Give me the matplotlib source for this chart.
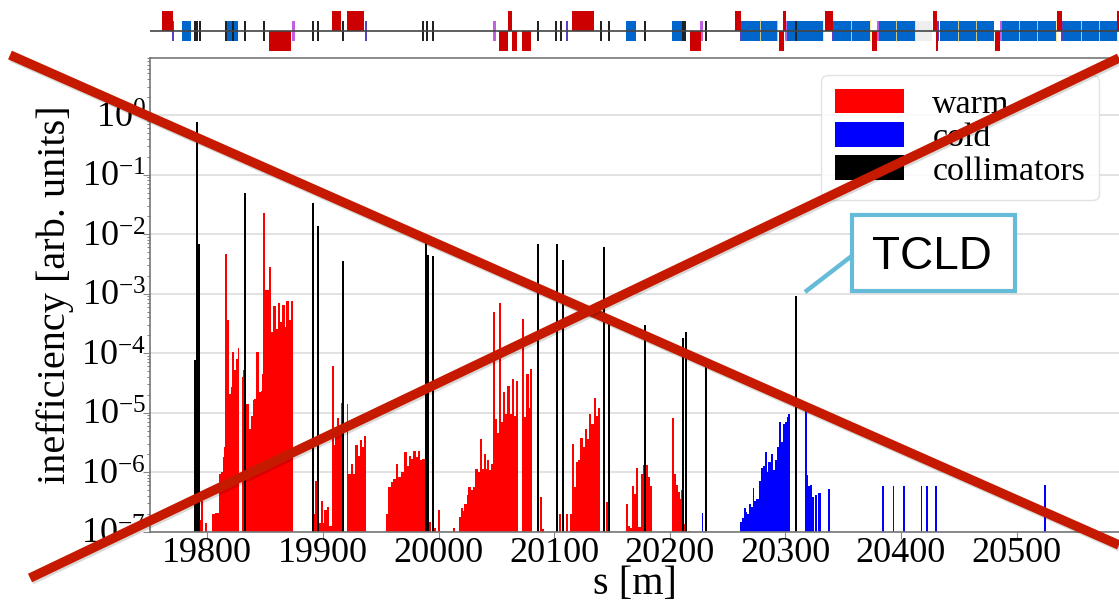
import numpy as np
import matplotlib
matplotlib.use('Agg')
import matplotlib.pyplot as plt
import matplotlib.patheffects as pe
from matplotlib.patches import Rectangle
from matplotlib.ticker import LogLocator, NullFormatter

# loss map: position [m] and log10(inefficiency)
warm_s = [19792, 19793.5, 19795.5, 19799, 19805, 19807.5, 19810.5, 19812.3, 19814, 19815.2, 19816.4, 19818,
          19819.6, 19821, 19822.5, 19824, 19825.5, 19827, 19830.5, 19832, 19833.6, 19835.5, 19837, 19838.5,
          19840, 19841.2, 19843.3, 19845, 19847, 19848.2, 19849.3, 19851, 19854, 19855.7, 19858, 19859.7,
          19861.7, 19863.7, 19865.7, 19867.5, 19869.2, 19871.2, 19873,
          19892.6, 19894, 19896, 19899, 19900.4, 19901.8, 19904, 19906, 19908.4, 19909.9, 19911.3, 19912.7,
          19914.8, 19916, 19917.1, 19921.7, 19922.8, 19924.9, 19927, 19928.9, 19931, 19932.6, 19934.4, 19936.4,
          19955, 19956.9, 19959.5, 19961.5, 19964, 19966, 19968, 19971, 19973, 19975.3, 19977, 19979, 19981,
          19982.8, 19984.5, 19986.8, 19988, 19989.7, 19992.6, 19997, 20000.7,
          20013.4, 20018.6, 20020, 20021.6, 20023.2, 20025, 20026.7, 20028.7, 20030.7, 20032.7, 20034.5, 20036.5,
          20038.2, 20040, 20041.6, 20043, 20044.5, 20046, 20047.7, 20049.2, 20051, 20053, 20054.6, 20056.7,
          20058.4, 20060.4, 20062.2, 20064.2, 20066, 20067.9, 20073, 20074.8, 20076.8, 20078.6, 20080.3,
          20088.4, 20090, 20105, 20111, 20114.3, 20116, 20117.8, 20119.5, 20121.3, 20123.3, 20125.3, 20127.3,
          20129, 20131, 20133, 20135, 20136.8, 20138.8, 20145.5, 20147,
          20162.8, 20164.2, 20166, 20168, 20169.7, 20171.4, 20173.2, 20175.8, 20177.5, 20180, 20181.8, 20183.5,
          20202.6, 20204, 20206, 20207.8, 20209.5, 20210.6, 20212.5, 20216.7]
warm_exp = [-5.97, -6.81, -6.48, -6.86, -6.71, -6.69, -6.03, -6.0, -5.75, -5.58, -2.33, -3.45,
            -4.68, -4.57, -3.98, -4.29, -4.1, -3.91, -4.4, -4.29, -4.85, -4.85, -5.27, -5.05,
            -4.79, -4.77, -3.98, -4.65, -4.63, -4.35, -1.64, -2.94, -2.56, -3.64, -3.21, -3.6,
            -3.15, -3.47, -3.19, -3.56, -3.12, -3.45, -3.13,
            -6.7, -6.14, -6.85, -6.48, -6.85, -6.64, -6.59, -6.9, -4.22, -5.55, -5.24, -5.09,
            -5.24, -4.83, -5.07, -4.86, -6.03, -5.87, -6.03, -5.55, -5.72, -5.46, -5.58, -5.4,
            -6.7, -6.25, -6.17, -6.11, -5.86, -6.08, -6.0, -5.66, -5.89, -5.72, -5.78, -5.65, -5.75,
            -5.65, -5.8, -5.78, -5.78, -6.28, -6.84, -6.93, -6.64,
            -6.94, -6.76, -6.6, -6.65, -6.53, -6.39, -6.25, -6.3, -6.25, -5.94, -6.0, -5.44,
            -5.94, -5.7, -5.95, -5.79, -5.97, -5.86, -3.31, -5.1, -5.35, -3.16, -5.16, -4.65,
            -5.02, -4.55, -5.02, -4.43, -5.05, -4.46, -3.43, -5.07, -4.35, -4.93, -4.26,
            -6.41, -6.95, -6.71, -6.71, -6.71, -5.52, -6.25, -5.83, -5.8, -5.42, -5.58, -5.28,
            -5.44, -5.03, -5.19, -4.75, -5.05, -4.92, -6.5, -6.7,
            -6.53, -6.9, -6.93, -6.24, -6.36, -5.93, -6.92, -6.03, -5.88, -5.88, -6.08, -6.24,
            -5.09, -6.03, -6.22, -6.34, -6.45, -6.3, -6.87, -6.99]

cold_s = [20261.4, 20263.2, 20264.9, 20266.6, 20267.8, 20269.2, 20270.7, 20272.4, 20273.8, 20275.8, 20278.2,
          20279.9, 20281.3, 20282.8, 20284.5, 20286.2, 20287.4, 20288.8, 20290.3, 20291.7, 20293.4, 20295.5,
          20296.9, 20298.9, 20300.6, 20301.8, 20303.2, 20317.7, 20319.1, 20320.5, 20322.3, 20323.7]
cold_exp = [-6.84, -6.77, -6.6, -6.67, -6.7, -6.53, -6.59, -6.26, -6.48, -6.45, -6.14,
            -5.93, -5.89, -5.66, -6.0, -5.83, -5.83, -5.69, -5.97, -5.8, -5.58, -5.16,
            -5.5, -5.19, -5.16, -5.07, -5.03, -4.82, -6.05, -6.24, -6.21, -6.42]
cold_single_s = [20228.2, 20326.6, 20329.2, 20330.2, 20337.6, 20384.6, 20393.5, 20402.7, 20417.7, 20422.6,
                 20430.1, 20524.7]
cold_single_exp = [-6.68, -6.375, -6.35, -6.35, -6.29, -6.23, -6.23, -6.23, -6.23, -6.23, -6.23, -6.22]

coll_s = [19789.1, 19791.1, 19793.1, 19832.6, 19891.7, 19895.8, 19917.1, 19988.9, 19990.9, 19995.2, 20086.1,
          20102.2, 20108, 20142.9, 20147.5, 20178.6, 20211.8, 20213.8, 20231.4, 20309.5]
coll_loss = [7.6e-5, 0.76, 6.7e-3, 0.05, 0.033, 0.0135, 3.6e-3, 0.01, 4.5e-3, 4.3e-3, 6.7e-3,
             6.7e-3, 3.7e-3, 6e-3, 4.3e-4, 3e-4, 1.8e-4, 2.3e-4, 7.6e-5, 9.3e-4]

xticks = [19800, 19900, 20000, 20100, 20200, 20300, 20400, 20500]
yticks = [1e-7, 1e-6, 1e-5, 1e-4, 1e-3, 1e-2, 1e-1, 1e0]

# machine layout strip: (start, end) in s [m]
red_up = [(19761.1, 19770.6), (19908.1, 19915.9), (19920.8, 19935.8), (20059.8, 20063.9), (20115.5, 20134.5),
          (20256.2, 20261.7), (20298.3, 20300.3), (20334, 20341), (20427.5, 20431.2), (20534.7, 20539.6),
          (20587.2, 20588.6)]
red_down = [(19853.6, 19872.7), (20052.3, 20059.8), (20063.9, 20067.6), (20072.5, 20080), (20217.8, 20227.4),
            (20294.8, 20298.9), (20374.7, 20379.6), (20430.6, 20432.4), (20481.7, 20486)]
blue_quads = [(19777.8, 19786.2), (19815.9, 19826.2), (20161.9, 20170.8), (20202, 20210.4), (20262.3, 20294),
              (20301.2, 20332.9), (20342.4, 20373.3), (20381.3, 20412.2), (20433.8, 20480.5), (20487.4, 20534.2),
              (20540.5, 20587.2)]
black_marks = [19789, 19791.1, 19793.4, 19816.1, 19821.9, 19832.6, 19849, 19891.7, 19895.7, 19917.1, 19986.9,
               19990.3, 19994.9, 20086.4, 20101.9, 20106, 20140.6, 20147.5, 20178.6, 20211.8, 20213.2, 20231.4,
               20309.3]
purple_dark = [19770.6, 19937.2, 20111.5, 20261.7, 20341.2, 20432.4, 20539.6]
purple_light = [19874.4, 20048.3, 20227.4, 20300.6, 20380.2, 20486.6]
yellow_marks = [20278.1, 20293.4, 20317, 20332.9, 20357.4, 20373.3, 20396.3, 20412.2, 20449.7, 20465, 20480.5,
                20502.4, 20518.3, 20534.2, 20555.8, 20571.4, 20587.2]
gray_band = (20412.2, 20427.2)

W, H = 1119, 603
plt.rcParams['font.family'] = ['Liberation Serif', 'DejaVu Serif']
plt.rcParams['mathtext.fontset'] = 'stix'


def box(left, top, right, bottom):
    return [left / W, 1 - bottom / H, (right - left) / W, (bottom - top) / H]


def bar_widths(s):
    # neighbours closer than 3.2 m touch, lone spikes stay thin
    gaps = np.diff(s, append=s[-1] + 100)
    return np.where(gaps <= 3.2, gaps + 0.1, 1.6)


fig = plt.figure(figsize=(W / 100, H / 100), dpi=100)
ax = fig.add_axes(box(150, 58, 1119, 531.7))
ax.set_yscale('log')
warm_pos = np.array(warm_s)
cold_pos = np.array(cold_s)
ax.bar(warm_pos - 0.8, 10.0 ** np.array(warm_exp), width=bar_widths(warm_pos), align='edge',
       color='#ff0000', linewidth=0, label='warm')
ax.bar(cold_pos - 0.8, 10.0 ** np.array(cold_exp), width=bar_widths(cold_pos), align='edge',
       color='#0000ff', linewidth=0, label='cold')
ax.bar(cold_single_s, 10.0 ** np.array(cold_single_exp), width=1.4, color='#0000ff', linewidth=0)
ax.bar(coll_s, coll_loss, width=1.6, color='#000000', linewidth=0, label='collimators')
ax.set_xlim(19750.4, 20588.6)
ax.set_ylim(1e-7, 9.1)
ax.set_xticks(xticks)
ax.set_yticks(yticks)
ax.set_xlabel('s [m]', fontsize=29, labelpad=-3)
ax.set_ylabel('inefficiency [arb. units]', fontsize=29, labelpad=5)
ax.tick_params(axis='x', which='major', labelsize=26, color='#888888', length=5, pad=-1)
ax.tick_params(axis='y', which='major', labelsize=26, color='#888888', length=5, pad=-2)
ax.tick_params(axis='y', which='minor', color='#666666', length=2)
ax.yaxis.set_minor_locator(LogLocator(base=10, subs=range(2, 10), numticks=12))
ax.yaxis.set_minor_formatter(NullFormatter())
ax.grid(axis='y', which='major', color='#dddddd', linewidth=1.2)
ax.set_axisbelow(True)
for side in ['left', 'bottom', 'top']:
    ax.spines[side].set_color('#777777')
    ax.spines[side].set_linewidth(1.2)
ax.spines['right'].set_visible(False)
leg = ax.legend(loc='upper left', bbox_to_anchor=(821 / W, 1 - 75 / H), bbox_transform=fig.transFigure,
                fontsize=24.5, handlelength=2.05, handleheight=0.74, handletextpad=0.82, labelspacing=0.065,
                borderpad=0.4, borderaxespad=0, framealpha=0.85, edgecolor='#dddddd')

# layout strip on the same s scale
strip = fig.add_axes(box(150, 11, 1119, 51), sharex=ax)
strip.set_ylim(-1, 1)
strip.axis('off')
strip.axvspan(gray_band[0], gray_band[1], ymin=0.25, ymax=0.75, color='#eeeeee', linewidth=0)
for a, b in blue_quads:
    strip.bar(a, 1.03, width=b - a, bottom=-0.52, align='edge', color='#0066cc', linewidth=0)
for x in yellow_marks:
    strip.bar(x, 1.1, width=0.8, bottom=-0.55, color='#ffe080', linewidth=0, alpha=0.8)
for x in purple_light:
    strip.bar(x, 1.03, width=2.2, bottom=-0.52, color='#c060e0', linewidth=0)
for x in purple_dark:
    strip.bar(x, 1.03, width=1.7, bottom=-0.52, color='#5a3fc0', linewidth=0)
for a, b in red_up:
    strip.bar(a, 1, width=b - a, bottom=0, align='edge', color='#cc0000', linewidth=0)
for a, b in red_down:
    strip.bar(a, -1, width=b - a, bottom=0, align='edge', color='#cc0000', linewidth=0)
for x in black_marks:
    strip.bar(x, 1.03, width=1.7, bottom=-0.52, color='#222222', linewidth=0)
strip.axhline(0, color='#444444', linewidth=1.2)

# slide overlay in pixel coordinates
over = fig.add_axes([0, 0, 1, 1], facecolor='none')
over.set_xlim(0, W)
over.set_ylim(H, 0)
over.axis('off')
over.text(648, -5, 's [m]', fontsize=29, ha='center', va='baseline', clip_on=False)
tcld_color = '#66bbd8'
over.plot([853, 805], [255, 292], color=tcld_color, linewidth=3.2, solid_capstyle='butt')
over.add_patch(Rectangle((851.5, 214.5), 163, 76, facecolor='white', edgecolor=tcld_color, linewidth=3))
over.text(932, 257, 'TCLD', fontsize=33, family='Liberation Sans', ha='center', va='center')
shadow = [pe.SimpleLineShadow(offset=(1, -1.5), shadow_color='k', alpha=0.15), pe.Normal()]
over.plot([10, 1119], [55, 545], color='#c61a00', linewidth=6.8, solid_capstyle='butt', path_effects=shadow)
over.plot([30, 1119], [578, 58], color='#c61a00', linewidth=6.8, solid_capstyle='butt', path_effects=shadow)

fig.savefig('out.png', dpi=100)
